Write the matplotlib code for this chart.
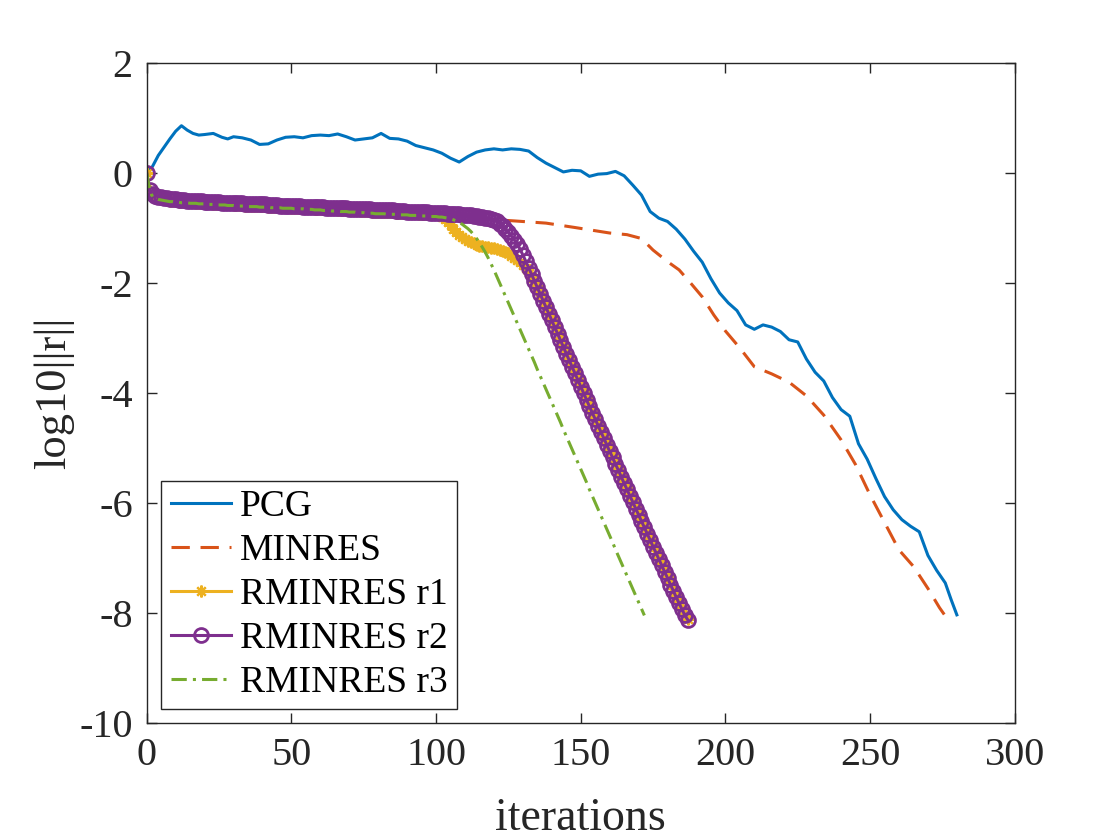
import matplotlib
matplotlib.use("Agg")
import matplotlib.pyplot as plt

plt.rcParams['font.family'] = ['Liberation Serif', 'DejaVu Serif']
plt.rcParams['axes.unicode_minus'] = False

# PCG residual history (sampled iterations)
pcg_it = [0, 2, 4, 6, 8, 10, 12, 14, 16, 18, 20, 23, 26, 28, 30, 33, 36, 39, 42, 45,
          48, 51, 54, 57, 60, 63, 66, 69, 72, 75, 78, 81, 84, 87, 90, 93, 96, 99, 102, 105,
          108, 111, 114, 117, 120, 123, 126, 129, 132, 135, 138, 141, 144, 147, 150, 153, 156, 159, 162, 165,
          168, 171, 174, 177, 180, 183, 186, 189, 192, 195, 198, 201, 204, 207, 210, 213, 216, 219, 222, 225,
          228, 231, 234, 237, 240, 243, 246, 249, 252, 255, 258, 261, 264, 267, 270, 273, 276, 278, 280]
pcg_res = [0.00, 0.12, 0.32, 0.47, 0.62, 0.76, 0.86, 0.78, 0.72, 0.69, 0.70, 0.72, 0.65, 0.62, 0.66, 0.64, 0.60, 0.52, 0.53, 0.60,
           0.65, 0.66, 0.64, 0.68, 0.69, 0.68, 0.71, 0.66, 0.60, 0.62, 0.64, 0.72, 0.63, 0.62, 0.58, 0.50, 0.46, 0.42, 0.36, 0.27,
           0.20, 0.30, 0.38, 0.42, 0.44, 0.42, 0.44, 0.43, 0.40, 0.28, 0.18, 0.10, 0.02, 0.05, 0.04, -0.06, -0.02, -0.01, 0.03, -0.05,
           -0.22, -0.40, -0.70, -0.82, -0.88, -1.02, -1.20, -1.42, -1.62, -1.92, -2.18, -2.36, -2.50, -2.76, -2.84, -2.76, -2.80, -2.88, -3.03, -3.07,
           -3.38, -3.62, -3.78, -4.08, -4.30, -4.42, -4.92, -5.20, -5.55, -5.88, -6.12, -6.30, -6.42, -6.52, -6.95, -7.22, -7.45, -7.75, -8.03]

# MINRES residual history (sampled iterations)
minres_it = [0, 1, 5, 20, 40, 60, 80, 100, 110, 118, 127, 138, 148, 160, 166, 171, 175, 180, 184, 188,
             192, 196, 200, 205, 210, 216, 222, 228, 234, 240, 245, 250, 255, 260, 265, 270, 274, 276]
minres_res = [0.00, -0.31, -0.44, -0.52, -0.57, -0.62, -0.67, -0.72, -0.76, -0.84, -0.87, -0.91, -0.99, -1.09, -1.12, -1.19, -1.40, -1.61, -1.76, -2.00,
              -2.25, -2.58, -2.87, -3.18, -3.52, -3.65, -3.80, -4.05, -4.40, -4.85, -5.30, -5.85, -6.35, -6.85, -7.15, -7.55, -7.90, -8.05]

# RMINRES r2, one value per iteration 0..187
r2_res = [0.00, -0.31, -0.38, -0.41, -0.43, -0.44, -0.45, -0.46, -0.47, -0.48, -0.48,
          -0.49, -0.49, -0.49, -0.50, -0.50, -0.50, -0.51, -0.51, -0.51, -0.52,
          -0.52, -0.52, -0.53, -0.53, -0.53, -0.54, -0.54, -0.54, -0.54, -0.55,
          -0.55, -0.55, -0.55, -0.56, -0.56, -0.56, -0.56, -0.57, -0.57, -0.57,
          -0.57, -0.58, -0.58, -0.58, -0.58, -0.59, -0.59, -0.59, -0.59, -0.60,
          -0.60, -0.60, -0.60, -0.61, -0.61, -0.61, -0.61, -0.62, -0.62, -0.62,
          -0.62, -0.63, -0.63, -0.63, -0.63, -0.64, -0.64, -0.64, -0.64, -0.65,
          -0.65, -0.65, -0.65, -0.66, -0.66, -0.66, -0.66, -0.67, -0.67, -0.67,
          -0.67, -0.68, -0.68, -0.68, -0.68, -0.69, -0.69, -0.69, -0.69, -0.70,
          -0.70, -0.70, -0.70, -0.71, -0.71, -0.71, -0.71, -0.72, -0.72, -0.72,
          -0.73, -0.73, -0.73, -0.74, -0.74, -0.74, -0.75, -0.75, -0.76, -0.76,
          -0.77, -0.77, -0.78, -0.78, -0.79, -0.80, -0.81, -0.82, -0.83, -0.85,
          -0.88, -0.92, -0.97, -1.02, -1.08, -1.14, -1.21, -1.29, -1.38, -1.49,
          -1.60, -1.72, -1.84, -1.96, -2.08, -2.20, -2.32, -2.44, -2.56, -2.68,
          -2.80, -2.92, -3.04, -3.16, -3.28, -3.40, -3.52, -3.64, -3.76, -3.88,
          -4.00, -4.12, -4.24, -4.36, -4.47, -4.59, -4.71, -4.82, -4.94, -5.06,
          -5.17, -5.29, -5.40, -5.52, -5.64, -5.75, -5.87, -5.98, -6.10, -6.21,
          -6.33, -6.44, -6.56, -6.67, -6.79, -6.90, -7.02, -7.13, -7.25, -7.36,
          -7.48, -7.59, -7.71, -7.82, -7.93, -8.04, -8.12]

# RMINRES r1, one value per iteration 0..187
r1_res = [0.00, -0.33, -0.41, -0.44, -0.46, -0.47, -0.48, -0.49, -0.50, -0.51, -0.51,
          -0.52, -0.52, -0.52, -0.53, -0.53, -0.53, -0.54, -0.54, -0.54, -0.55,
          -0.55, -0.55, -0.56, -0.56, -0.56, -0.57, -0.57, -0.57, -0.57, -0.58,
          -0.58, -0.58, -0.58, -0.59, -0.59, -0.59, -0.59, -0.60, -0.60, -0.60,
          -0.60, -0.61, -0.61, -0.61, -0.61, -0.62, -0.62, -0.62, -0.62, -0.63,
          -0.63, -0.63, -0.63, -0.64, -0.64, -0.64, -0.64, -0.65, -0.65, -0.65,
          -0.65, -0.66, -0.66, -0.66, -0.66, -0.67, -0.67, -0.67, -0.67, -0.68,
          -0.68, -0.68, -0.68, -0.69, -0.69, -0.69, -0.69, -0.70, -0.70, -0.70,
          -0.70, -0.71, -0.71, -0.71, -0.71, -0.72, -0.72, -0.72, -0.72, -0.73,
          -0.73, -0.73, -0.73, -0.74, -0.74, -0.74, -0.74, -0.75, -0.75, -0.75,
          -0.77, -0.80, -0.84, -0.89, -0.95, -1.01, -1.07, -1.12, -1.16, -1.20,
          -1.23, -1.26, -1.28, -1.30, -1.32, -1.33, -1.34, -1.35, -1.36, -1.37,
          -1.38, -1.39, -1.41, -1.43, -1.46, -1.50, -1.54, -1.58, -1.62, -1.67,
          -1.73, -1.81, -1.89, -1.97, -2.05, -2.16, -2.28, -2.40, -2.52, -2.64,
          -2.76, -2.88, -3.00, -3.12, -3.24, -3.36, -3.48, -3.60, -3.72, -3.84,
          -3.96, -4.08, -4.20, -4.32, -4.43, -4.55, -4.67, -4.78, -4.90, -5.02,
          -5.13, -5.25, -5.36, -5.48, -5.60, -5.71, -5.83, -5.94, -6.06, -6.17,
          -6.29, -6.40, -6.52, -6.63, -6.75, -6.86, -6.98, -7.09, -7.21, -7.32,
          -7.44, -7.55, -7.67, -7.78, -7.90, -8.01, -8.10]

# RMINRES r3, one value per iteration 0..172
r3_res = [0.00, -0.30, -0.43, -0.46, -0.48, -0.49, -0.50, -0.51, -0.52, -0.52, -0.53,
          -0.53, -0.54, -0.54, -0.54, -0.55, -0.55, -0.55, -0.56, -0.56, -0.56,
          -0.57, -0.57, -0.57, -0.58, -0.58, -0.58, -0.58, -0.59, -0.59, -0.59,
          -0.60, -0.60, -0.60, -0.60, -0.61, -0.61, -0.61, -0.61, -0.62, -0.62,
          -0.62, -0.62, -0.63, -0.63, -0.63, -0.63, -0.64, -0.64, -0.64, -0.64,
          -0.65, -0.65, -0.65, -0.65, -0.66, -0.66, -0.66, -0.67, -0.67, -0.67,
          -0.68, -0.68, -0.68, -0.69, -0.69, -0.69, -0.70, -0.70, -0.70, -0.71,
          -0.71, -0.71, -0.72, -0.72, -0.72, -0.73, -0.73, -0.73, -0.74, -0.74,
          -0.74, -0.74, -0.75, -0.75, -0.75, -0.75, -0.76, -0.76, -0.76, -0.76,
          -0.77, -0.77, -0.77, -0.77, -0.78, -0.78, -0.78, -0.79, -0.79, -0.79,
          -0.80, -0.80, -0.81, -0.82, -0.83, -0.85, -0.87, -0.90, -0.93, -0.97,
          -1.01, -1.06, -1.12, -1.19, -1.27, -1.35, -1.44, -1.54, -1.65, -1.76,
          -1.88, -2.00, -2.12, -2.24, -2.36, -2.48, -2.60, -2.72, -2.84, -2.96,
          -3.08, -3.20, -3.32, -3.44, -3.57, -3.69, -3.81, -3.93, -4.05, -4.17,
          -4.29, -4.41, -4.53, -4.66, -4.78, -4.90, -5.02, -5.14, -5.26, -5.38,
          -5.50, -5.62, -5.75, -5.87, -5.99, -6.11, -6.23, -6.35, -6.47, -6.59,
          -6.71, -6.84, -6.96, -7.08, -7.20, -7.32, -7.44, -7.56, -7.68, -7.80,
          -7.92, -8.04]

r1_it = list(range(len(r1_res)))
r2_it = list(range(len(r2_res)))
r3_it = list(range(len(r3_res)))

labels = ['PCG', 'MINRES', 'RMINRES r1', 'RMINRES r2', 'RMINRES r3']
colors = ['#0072BD', '#D95319', '#EDB120', '#7E2F8E', '#77AC30']

fig = plt.figure(figsize=(11.2, 8.4), dpi=100)
ax = fig.add_axes([0.131, 0.139, 0.775, 0.786])

lw = 2.2
ax.plot(pcg_it, pcg_res, '-', color=colors[0], lw=lw, label=labels[0])
ax.plot(minres_it, minres_res, color=colors[1], lw=lw, dashes=(6, 3.5), label=labels[1])
ax.plot(r1_it, r1_res, '-', color=colors[2], lw=lw, marker=(8, 2, 0),
        markersize=8.5, markeredgewidth=1.6, label=labels[2])
ax.plot(r2_it, r2_res, '-', color=colors[3], lw=lw, marker='o', markersize=10,
        markerfacecolor='none', markeredgewidth=2.0, label=labels[3])
ax.plot(r3_it, r3_res, color=colors[4], lw=lw, dashes=(5, 2, 1, 2), label=labels[4])

ax.set_xlim(0, 300)
ax.set_ylim(-10, 2)
ax.set_xticks([0, 50, 100, 150, 200, 250, 300])
ax.set_yticks([-10, -8, -6, -4, -2, 0, 2])

for s in ax.spines.values():
    s.set_color('#262626')
    s.set_linewidth(1.0)
ax.tick_params(direction='in', length=7, width=1.0, colors='#262626',
               labelsize=29, top=True, right=True, pad=10)
for t in ax.get_xticklabels() + ax.get_yticklabels():
    t.set_color('#262626')

ax.set_xlabel('iterations', fontsize=33, color='#262626', labelpad=17)
ax.set_ylabel('log10||r||', fontsize=32, color='#262626', labelpad=4)

leg = ax.legend(loc='lower left', bbox_to_anchor=(0.017, 0.021), borderaxespad=0,
                fontsize=27, fancybox=False, framealpha=1, edgecolor='#262626',
                handlelength=1.6, handletextpad=0.25, labelspacing=0.25,
                borderpad=0.25)
leg.get_frame().set_linewidth(1.0)

fig.savefig('out.png', dpi=100)
